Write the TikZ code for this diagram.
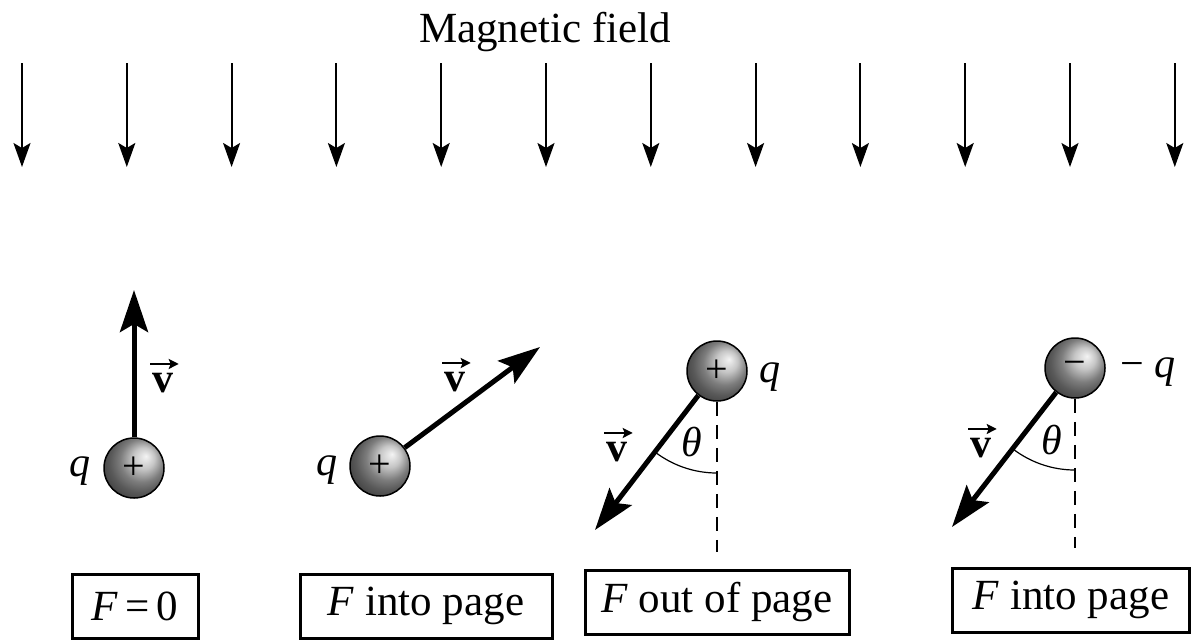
\documentclass[tikz,border=0pt]{standalone}
\usepackage{fontspec}
\setmainfont{Liberation Serif}
\usetikzlibrary{arrows.meta}
\begin{document}
\begin{tikzpicture}[x=1pt,y=-1pt,
  fieldarrow/.style={line width=2pt,-{Stealth[length=24pt,width=17pt,inset=5pt]}},
  velarrow/.style={line width=5pt,-{Stealth[length=42pt,width=28pt,inset=8pt]}},
  vecaccent/.style={line width=2pt,-{Stealth[length=10pt,width=10pt,inset=2pt]}},
  charge/.style={circle,draw=black,line width=1.5pt,minimum size=60pt,inner sep=0pt,
    shade,ball color=gray!60,shading angle=-90,font=\fontsize{40}{48}\selectfont},
  lab/.style={font=\fontsize{42}{48}\selectfont,inner sep=0pt},
  forcebox/.style={draw,line width=3pt,font=\fontsize{43}{48}\selectfont,
    minimum height=64pt,inner sep=0pt},
  refline/.style={line width=1.5pt,dash pattern=on 14pt off 9pt},
  anglearc/.style={line width=1.2pt}
]
\useasboundingbox (0,0) rectangle (1199,641);

% magnetic field
\node[lab,anchor=base,font=\fontsize{43}{48}\selectfont] (title) at (545,42) {Magnetic field};
\foreach \i in {0,...,11}{
  \coordinate (ft\i) at ({22+104.8*\i},63);
  \coordinate (fb\i) at ({22+104.8*\i},167);
  \draw[fieldarrow] (ft\i) -- (fb\i);
}

% panel 1
\node[charge] (s1) at (134,468) {+};
\coordinate (t1) at (134,290);
\draw[velarrow] (s1.north) -- (t1);
\node[lab] (v1) at (163,383) {\textbf{v}};
\draw[vecaccent] ([shift={(-2,-9)}]v1.north west) -- ([shift={(5,-9)}]v1.north east);
\node[lab] (q1) at (80,471) {\textit{q}};
\node[forcebox,minimum width=126pt] (b1) at (135,606) {\textit{F}\,=\,0};

% panel 2
\node[charge] (s2) at (380,466) {+};
\coordinate (t2) at (540,347);
\draw[velarrow] (s2) -- (t2);
\node[lab] (v2) at (455,382) {\textbf{v}};
\draw[vecaccent] ([shift={(-2,-9)}]v2.north west) -- ([shift={(5,-9)}]v2.north east);
\node[lab] (q2) at (327,470) {\textit{q}};
\node[forcebox,minimum width=252pt] (b2) at (426,606) {\textit{F} into page};

% panel 3
\node[charge] (s3) at (717,371) {+};
\coordinate (t3) at (595,530);
\coordinate (d3) at (717,552);
\draw[refline] (s3.south) -- (d3);
\draw[velarrow] (s3) -- (t3);
\draw[anglearc] plot[domain=90:127.5,samples=40,smooth] ({717+102*cos(\x)},{371+102*sin(\x)});
\node[lab] (th3) at (692,442) {\textit{θ}};
\node[lab] (v3) at (617,452) {\textbf{v}};
\draw[vecaccent] ([shift={(-2,-9)}]v3.north west) -- ([shift={(5,-9)}]v3.north east);
\node[lab] (q3) at (770,377) {\textit{q}};
\node[forcebox,minimum width=264pt] (b3) at (717,602) {\textit{F} out of page};

% panel 4
\node[charge] (s4) at (1075,368) {−};
\coordinate (t4) at (952,527);
\coordinate (d4) at (1075,548);
\draw[refline] (s4.south) -- (d4);
\draw[velarrow] (s4) -- (t4);
\draw[anglearc] plot[domain=90:127.7,samples=40,smooth] ({1075+102*cos(\x)},{368+102*sin(\x)});
\node[lab] (th4) at (1052,440) {\textit{θ}};
\node[lab] (v4) at (981,448) {\textbf{v}};
\draw[vecaccent] ([shift={(-2,-9)}]v4.north west) -- ([shift={(5,-9)}]v4.north east);
\node[lab] (q4) at (1148,372) {− \textit{q}};
\node[forcebox,minimum width=237pt] (b4) at (1071,600) {\textit{F} into page};
\end{tikzpicture}
\end{document}
